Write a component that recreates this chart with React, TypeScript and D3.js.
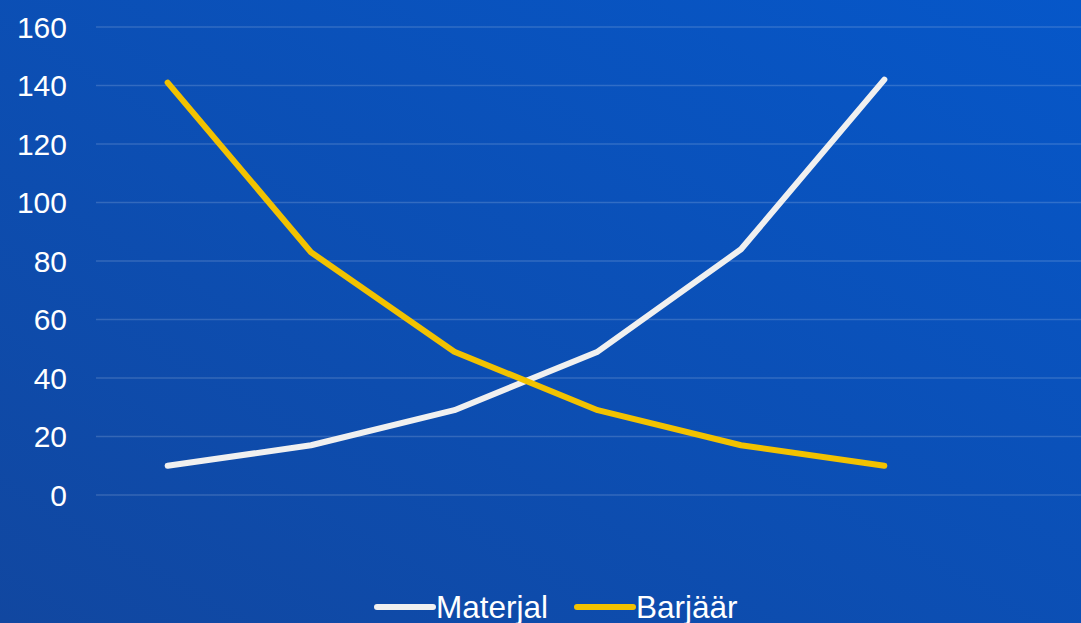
import React from "react";
import * as d3 from "d3";

const categories = ["1", "2", "3", "4", "5", "6"];
const materjal = [10, 17, 29, 49, 84, 142];
const barjaar = [141, 83, 49, 29, 17, 10];
const yTicks = [0, 20, 40, 60, 80, 100, 120, 140, 160];
const seriesNames = ["Materjal", "Barjäär"];
const seriesColors = ["#f0f0f0", "#f2c200"];

const W = 1081;
const H = 623;

export default function App() {
  const x = d3.scaleBand<string>().domain(categories).range([96, 956]);
  const y = d3.scaleLinear().domain([0, 160]).range([495, 27]);
  const line = d3
    .line<number>()
    .x((_, i) => (x(categories[i]) as number) + x.bandwidth() / 2)
    .y((d) => y(d));
  const series = [materjal, barjaar];
  const font = "'Liberation Sans', Arial, sans-serif";
  const legendX = [377, 577];

  return (
    <svg
      width={W}
      height={H}
      style={{ position: "absolute", left: 0, top: 0, display: "block" }}
    >
      <defs>
        <linearGradient id="bg" x1="0" y1="1" x2="1" y2="0">
          <stop offset="0%" stopColor="#1147a0" />
          <stop offset="100%" stopColor="#0657c9" />
        </linearGradient>
      </defs>
      <rect x={0} y={0} width={W} height={H} fill="url(#bg)" />
      {yTicks.map((t) => (
        <g key={t}>
          <line
            x1={96}
            x2={W}
            y1={y(t)}
            y2={y(t)}
            stroke="rgba(255,255,255,0.16)"
            strokeWidth={1.5}
          />
          <text
            x={67}
            y={y(t)}
            dy="0.35em"
            textAnchor="end"
            fill="#ffffff"
            fontFamily={font}
            fontSize={30}
          >
            {t}
          </text>
        </g>
      ))}
      {series.map((s, i) => (
        <path
          key={i}
          d={line(s) || ""}
          fill="none"
          stroke={seriesColors[i]}
          strokeWidth={6}
          strokeLinecap="round"
          strokeLinejoin="round"
        />
      ))}
      {seriesNames.map((n, i) => (
        <g key={n}>
          <line
            x1={legendX[i]}
            x2={legendX[i] + 56}
            y1={607}
            y2={607}
            stroke={seriesColors[i]}
            strokeWidth={6}
            strokeLinecap="round"
          />
          <text
            x={legendX[i] + 59}
            y={607}
            dy="0.35em"
            fill="#ffffff"
            fontFamily={font}
            fontSize={31.5}
          >
            {n}
          </text>
        </g>
      ))}
    </svg>
  );
}
